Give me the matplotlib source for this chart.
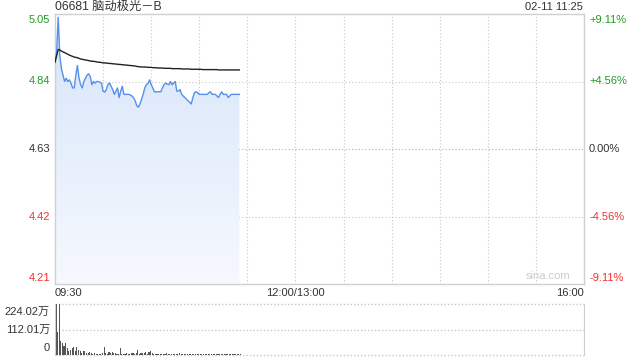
import numpy as np
import matplotlib
matplotlib.use("Agg")
import matplotlib.pyplot as plt
from matplotlib.patches import Polygon

plt.rcParams['font.family'] = ['Liberation Sans', 'Noto Sans CJK SC', 'DejaVu Sans']

# ---------------- data ----------------
title = "06681 脑动极光－B"
stamp = "02-11 11:25"
prev_close = 4.63
price_ticks = [5.05, 4.84, 4.63, 4.42, 4.21]
pct_labels = ["+9.11%", "+4.56%", "0.00%", "-4.56%", "-9.11%"]
vol_ticks = [224.02, 112.01, 0]
vol_labels = ["224.02万", "112.01万", "0"]
time_labels = ["09:30", "12:00/13:00", "16:00"]
time_pos = [0, 150, 330]

# one value per minute from 09:30 to 11:25
price = [
    4.90, 4.93, 5.04, 4.92, 4.88, 4.86, 4.84, 4.85, 4.84, 4.845,
    4.835, 4.82, 4.82, 4.86, 4.89, 4.85, 4.83, 4.82, 4.84, 4.85,
    4.86, 4.864, 4.855, 4.83, 4.84, 4.835, 4.84, 4.84, 4.838, 4.835,
    4.81, 4.807, 4.815, 4.83, 4.836, 4.825, 4.815, 4.80, 4.81, 4.82,
    4.79, 4.81, 4.825, 4.80, 4.80, 4.80, 4.80, 4.798, 4.795, 4.79,
    4.78, 4.765, 4.76, 4.77, 4.785, 4.80, 4.82, 4.83, 4.834, 4.845,
    4.83, 4.82, 4.808, 4.808, 4.808, 4.808, 4.808, 4.82, 4.83, 4.835,
    4.832, 4.83, 4.84, 4.83, 4.835, 4.84, 4.81, 4.81, 4.815, 4.80,
    4.795, 4.79, 4.785, 4.78, 4.775, 4.77, 4.79, 4.805, 4.808, 4.805,
    4.80, 4.80, 4.80, 4.80, 4.80, 4.80, 4.805, 4.808, 4.80, 4.80,
    4.80, 4.795, 4.79, 4.80, 4.808, 4.80, 4.80, 4.80, 4.79, 4.795,
    4.80, 4.80, 4.80, 4.80, 4.80, 4.80,
]
avg_price = [
    4.90, 4.92, 4.94, 4.938, 4.935, 4.932, 4.93, 4.927, 4.925, 4.922,
    4.92, 4.918, 4.916, 4.915, 4.914, 4.912, 4.91, 4.909, 4.908, 4.907,
    4.906, 4.905, 4.904, 4.903, 4.903, 4.902, 4.901, 4.90, 4.90, 4.899,
    4.898, 4.898, 4.897, 4.897, 4.896, 4.896, 4.895, 4.895, 4.894, 4.894,
    4.893, 4.893, 4.892, 4.892, 4.891, 4.891, 4.89, 4.89, 4.889, 4.889,
    4.888, 4.887, 4.886, 4.886, 4.885, 4.885, 4.885, 4.885, 4.884, 4.884,
    4.884, 4.883, 4.883, 4.883, 4.882, 4.882, 4.882, 4.882, 4.881, 4.881,
    4.881, 4.881, 4.881, 4.88, 4.88, 4.88, 4.88, 4.88, 4.88, 4.879,
    4.879, 4.879, 4.879, 4.879, 4.879, 4.878, 4.878, 4.878, 4.878, 4.878,
    4.878, 4.878, 4.877, 4.877, 4.877, 4.877, 4.877, 4.877, 4.877, 4.877,
    4.877, 4.877, 4.876, 4.876, 4.876, 4.876, 4.876, 4.876, 4.876, 4.876,
    4.876, 4.876, 4.876, 4.876, 4.876, 4.876,
]
volume = [  # 万
    224, 100, 222, 63, 53, 40, 53, 31, 19, 23,
    31, 34, 18, 34, 23, 18, 9, 19, 18, 9,
    7, 12, 8, 5, 7, 5, 4, 6, 5, 7,
    34, 9, 5, 13, 9, 12, 7, 9, 5, 6,
    30, 5, 3, 5, 9, 3, 5, 8, 9, 6,
    9, 20, 5, 7, 9, 9, 15, 6, 12, 18,
    10, 6, 4, 5, 3, 6, 4, 5, 3, 7,
    4, 3, 5, 4, 6, 3, 4, 8, 4, 3,
    5, 4, 3, 6, 4, 3, 5, 4, 3, 4,
    5, 3, 4, 3, 5, 4, 3, 4, 5, 3,
    4, 3, 4, 5, 3, 4, 3, 4, 3, 4,
    3, 4, 3, 3, 4, 3,
]
minutes = np.arange(len(price))

green = "#1f9e1f"
red = "#f03030"
dark = "#333333"
grid_c = "#c8c8c8"
frame_c = "#d0d0d0"

fig = plt.figure(figsize=(6.4, 3.6), dpi=100)
W, H = 640, 360


def box(l, t, r, b):
    return [l / W, 1 - b / H, (r - l) / W, (b - t) / H]


ax = fig.add_axes(box(55, 14, 584, 284))
axv = fig.add_axes(box(55, 304, 584, 355))

# ---------------- price panel ----------------
ax.set_xlim(0, 330)
ax.set_ylim(price_ticks[-1], price_ticks[0])
for x in range(30, 330, 30):
    ax.axvline(x, color=grid_c, lw=0.8, ls=(0, (1, 2)), zorder=0)
for y in price_ticks[1:-1]:
    ax.axhline(y, color="#b0b0b0" if y == prev_close else grid_c, lw=0.8,
               ls=(0, (1, 2)), zorder=0)

# gradient fill under the price line
grad = np.linspace(0, 1, 256).reshape(-1, 1)
cmap = matplotlib.colors.LinearSegmentedColormap.from_list(
    "f", ["#f6f9fe", "#d6e4fa"])
im = ax.imshow(grad, extent=[0, minutes[-1], price_ticks[-1], price_ticks[0]],
               origin="lower", aspect="auto", cmap=cmap, zorder=1)
poly = Polygon(np.column_stack([
    np.r_[minutes, minutes[-1], 0],
    np.r_[price, price_ticks[-1], price_ticks[-1]]]),
    closed=True, facecolor="none", edgecolor="none")
ax.add_patch(poly)
im.set_clip_path(poly)

ax.plot(minutes, price, color="#5590ec", lw=1.0, zorder=3)
ax.plot(minutes, avg_price, color="#222222", lw=1.0, zorder=3)

ax.set_xticks([])
ax.set_yticks([])
for s in ax.spines.values():
    s.set_color(frame_c)
    s.set_linewidth(1)

colors = [green, green, dark, red, red]
offsets = [-6, 0, 0, 0, 6]
for val, pl, c, dy in zip(price_ticks, pct_labels, colors, offsets):
    ax.annotate(f"{val:.2f}", xy=(0, val), xycoords=("axes fraction", "data"),
                xytext=(-5, dy), textcoords="offset pixels",
                ha="right", va="center", color=c, fontsize=8)
    ax.annotate(pl, xy=(1, val), xycoords=("axes fraction", "data"),
                xytext=(5, dy), textcoords="offset pixels",
                ha="left", va="center", color=c, fontsize=8)

for pos, lab, ha in zip(time_pos, time_labels, ["left", "center", "right"]):
    ax.annotate(lab, xy=(pos, 0), xycoords=("data", "axes fraction"),
                xytext=(0, -9), textcoords="offset pixels",
                ha=ha, va="center", color=dark, fontsize=8)

ax.text(0.975, 0.012, "sina.com", transform=ax.transAxes, ha="right",
        va="bottom", color="#cccccc", fontsize=8)

fig.text(55 / W, 1 - 7 / H, title, ha="left", va="center", color=dark,
         fontsize=8.8)
fig.text(583 / W, 1 - 7 / H, stamp, ha="right", va="center", color=dark,
         fontsize=8)

# ---------------- volume panel ----------------
axv.set_xlim(0, 330)
axv.set_ylim(0, vol_ticks[0])
axv.bar(minutes + 0.3, volume, width=0.7, align="edge", color="#555555",
        zorder=2)
for y in vol_ticks:
    axv.axhline(y, color=grid_c, lw=1, ls=(0, (1, 1.5)), zorder=0,
                clip_on=False)
axv.set_xticks([])
axv.set_yticks([])
axv.spines["top"].set_visible(False)
axv.spines["bottom"].set_visible(False)
for s in ("left", "right"):
    axv.spines[s].set_color(frame_c)
for val, lab, dy in zip(vol_ticks, vol_labels, [-8, 0, 7]):
    axv.annotate(lab, xy=(0, val), xycoords=("axes fraction", "data"),
                 xytext=(-5, dy), textcoords="offset pixels",
                 ha="right", va="center", color=dark, fontsize=8)

fig.savefig("out.png", dpi=100)
